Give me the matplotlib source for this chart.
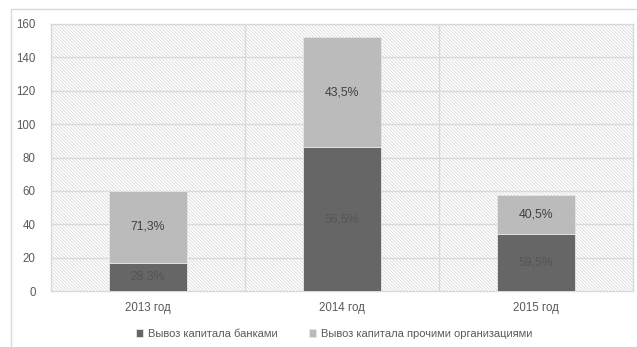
import matplotlib.pyplot as plt
from matplotlib.patches import Rectangle

# Data
years = ['2013 год', '2014 год', '2015 год']
banks = [17.0, 86.0, 34.2]
others = [43.0, 66.0, 23.3]
banks_lbl = ['28.3%', '56,5%', '59,5%']
others_lbl = ['71,3%', '43,5%', '40,5%']
series_names = ['Вывоз капитала банками', 'Вывоз капитала прочими организациями']

plt.rcParams['font.family'] = ['Liberation Sans', 'DejaVu Sans']
plt.rcParams['hatch.linewidth'] = 0.5

fig = plt.figure(figsize=(6.37, 3.47), dpi=100)
ax = fig.add_axes([51 / 637, 1 - 291 / 347, 582 / 637, 267 / 347])

# outer chart frame
fig.patches.append(Rectangle((11 / 637, -0.1), 1.2, 1 - 9 / 347 + 0.1,
                             transform=fig.transFigure, fill=False,
                             edgecolor='#d9d9d9', linewidth=1))

# hatched plot area
ax.add_patch(Rectangle((0, 0), 1, 1, transform=ax.transAxes, facecolor='white',
                       edgecolor='#d4d4d4', linewidth=0, hatch='\\' * 10, zorder=1))

x = range(len(years))
dark = '#666666'
light = '#bbbbbb'
ax.bar(x, banks, width=0.4, color=dark, edgecolor='#e6e6e6', linewidth=0.6, zorder=3,
       label=series_names[0])
ax.bar(x, others, width=0.4, bottom=banks, color=light, edgecolor='#e6e6e6', linewidth=0.6,
       zorder=3, label=series_names[1])

for i in x:
    ax.text(i, banks[i] / 2, banks_lbl[i], ha='center', va='center', fontsize=8.8,
            color='#555555', zorder=4)
    ax.text(i, banks[i] + others[i] / 2, others_lbl[i], ha='center', va='center',
            fontsize=8.8, color='#404040', zorder=4)

ax.set_xlim(-0.5, 2.5)
ax.set_ylim(0, 160)
ax.set_yticks(range(0, 161, 20))
ax.set_xticks(list(x))
ax.set_xticklabels(years)
ax.tick_params(axis='both', length=0, labelsize=8.3, labelcolor='#595959')
ax.tick_params(axis='y', pad=11)
ax.tick_params(axis='x', pad=8)

# gridlines
for yv in range(20, 161, 20):
    ax.axhline(yv, color='#d9d9d9', linewidth=1, zorder=2)
for xv in [0.5, 1.5]:
    ax.axvline(xv, color='#d9d9d9', linewidth=1, zorder=2)

for s in ax.spines.values():
    s.set_color('#d9d9d9')
    s.set_linewidth(1)

leg = fig.legend(loc='center', bbox_to_anchor=(334 / 637, 1 - 334 / 347), ncol=2,
                 frameon=False, fontsize=8, handlelength=0.7, handleheight=0.7,
                 handletextpad=0.4, columnspacing=2.8)
for t in leg.get_texts():
    t.set_color('#595959')

fig.savefig('out.png', dpi=100)
